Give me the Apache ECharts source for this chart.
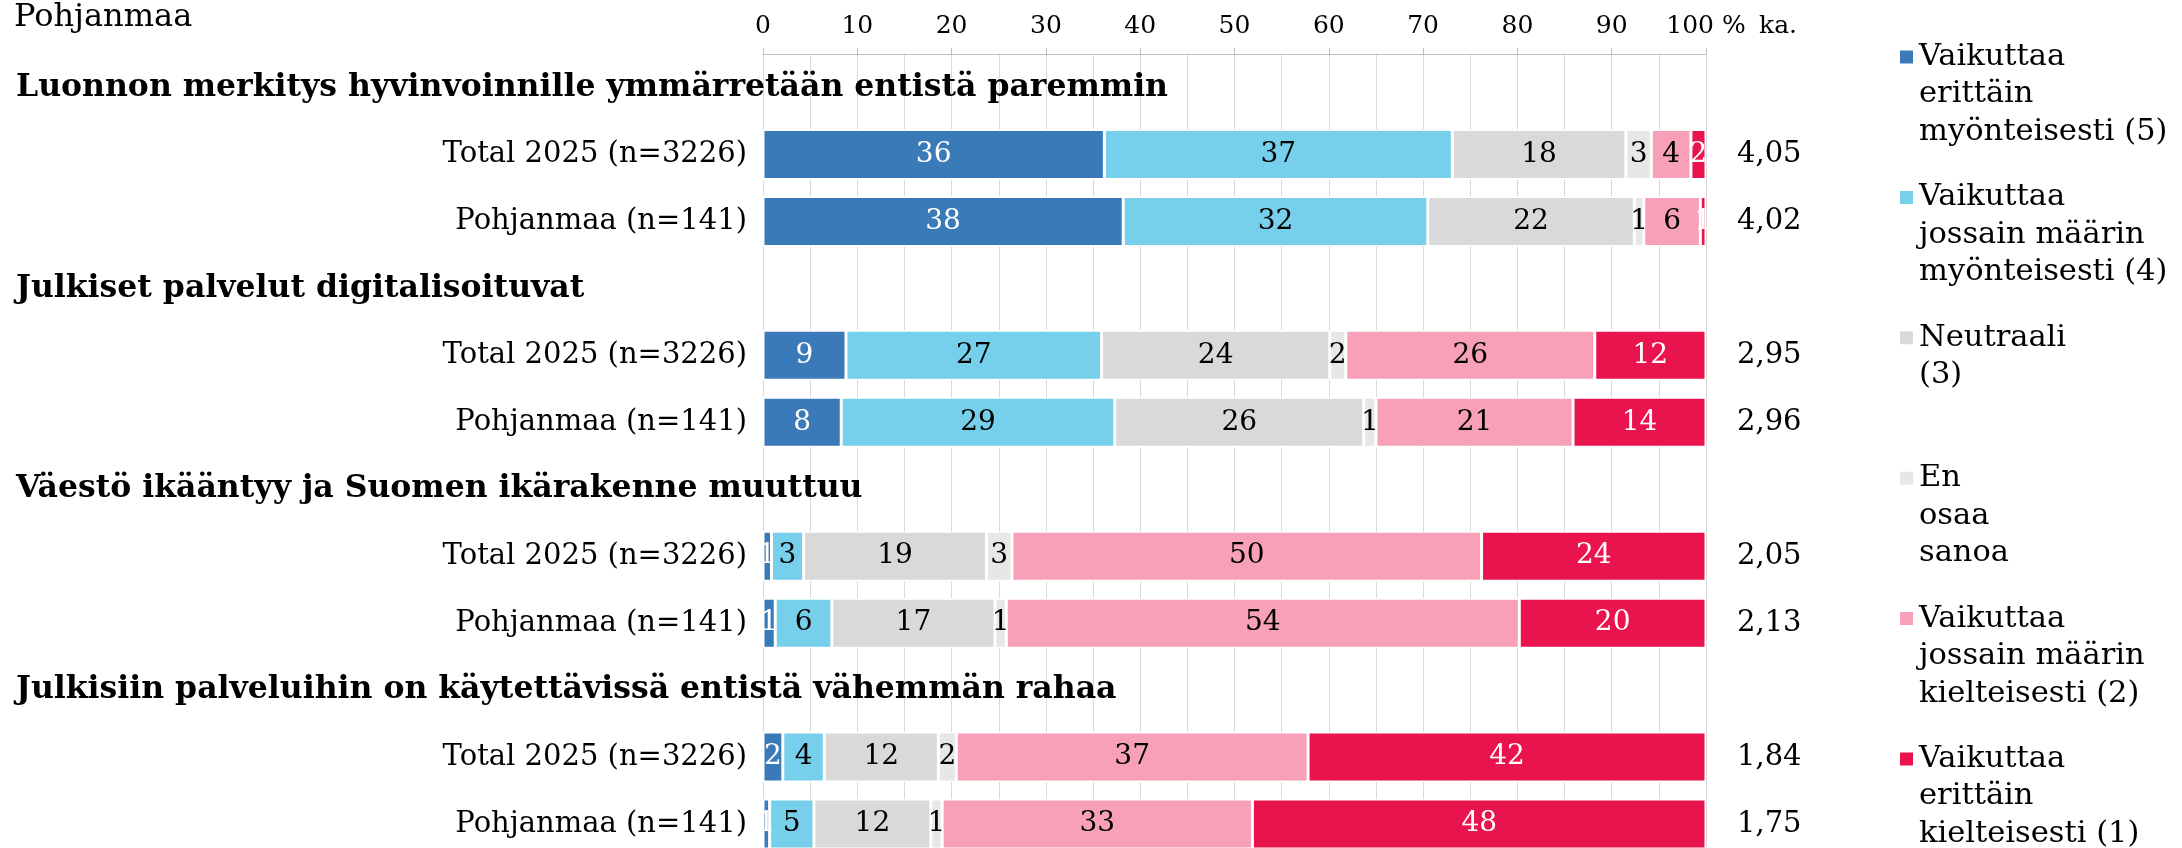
<!DOCTYPE html>
<html><head><meta charset="utf-8">
<script src="https://cdn.jsdelivr.net/npm/echarts@6/dist/echarts.min.js"></script>
<style>html,body{margin:0;padding:0;background:#fff}#c{width:2182px;height:848px}</style>
</head><body><div id="c"></div>
<script>
const pageTitle = 'Pohjanmaa';
const topics = [
  'Luonnon merkitys hyvinvoinnille ymmärretään entistä paremmin',
  'Julkiset palvelut digitalisoituvat',
  'Väestö ikääntyy ja Suomen ikärakenne muuttuu',
  'Julkisiin palveluihin on käytettävissä entistä vähemmän rahaa'
];
const groups = ['Total 2025 (n=3226)', 'Pohjanmaa (n=141)'];
const seriesNames = [
  'Vaikuttaa\nerittäin\nmyönteisesti (5)',
  'Vaikuttaa\njossain määrin\nmyönteisesti (4)',
  'Neutraali\n(3)',
  'En\nosaa\nsanoa',
  'Vaikuttaa\njossain määrin\nkielteisesti (2)',
  'Vaikuttaa\nerittäin\nkielteisesti (1)'
];
const colors = ['#3a7ab9', '#76cfeb', '#d9d9d9', '#e7e7e7', '#f7a0b7', '#e9134d'];
const labelColors = ['#ffffff', '#000000', '#000000', '#000000', '#000000', '#ffffff'];
// rows in order: topic1 Total, topic1 Pohjanmaa, topic2 Total, ...
const v5 = [36.2, 38.2, 8.8, 8.3, 0.9, 1.3, 2.1, 0.7];
const v4 = [36.9, 32.3, 27.1, 29.0, 3.4, 6.0, 4.4, 4.7];
const v3 = [18.4, 21.9, 24.2, 26.4, 19.4, 17.3, 12.1, 12.4];
const vEOS = [2.7, 1.0, 1.7, 1.3, 2.7, 1.2, 1.9, 1.2];
const v2 = [4.2, 6.0, 26.4, 20.9, 49.8, 54.4, 37.3, 32.9];
const v1 = [1.6, 0.6, 11.8, 14.1, 23.8, 19.8, 42.2, 48.1];
const means = ['4,05', '4,02', '2,95', '2,96', '2,05', '2,13', '1,84', '1,75'];
const maxTickSuffix = ' %';
const meanHeader = 'ka.';

const FONT = 'DejaVu Serif';
const seriesValues = [v5, v4, v3, vEOS, v2, v1];

// Build category rows
const cats = [], rowKind = [], rowText = [], rowIdx = [];
let k = 0;
topics.forEach((t, ti) => {
  cats.push('topic' + ti); rowKind.push('topic'); rowText.push(t); rowIdx.push(-1);
  groups.forEach((g, gi) => {
    cats.push('row' + ti + '_' + gi); rowKind.push('group'); rowText.push(g); rowIdx.push(k++);
  });
});

const series = seriesValues.map((vals, si) => ({
  name: seriesNames[si],
  type: 'bar',
  stack: 'all',
  barWidth: 50,
  itemStyle: { color: colors[si], borderColor: '#ffffff', borderWidth: 1.5 },
  label: {
    show: true, position: 'inside',
    fontFamily: FONT, fontSize: 28, color: labelColors[si],
    formatter: p => String(Math.round(p.value))
  },
  emphasis: { disabled: true },
  data: rowIdx.map(r => r < 0 ? '-' : vals[r])
}));

// Legends: one per item so the spacing matches; icon aligned with first text line
const legendPitch = 140.4, legendFirst = 57, lh = 37.5;
const legends = seriesNames.map((n, i) => {
  const lines = n.split('\n').length;
  const center = legendFirst + legendPitch * i;
  const half = (2 * lines - 1) * lh / 2;
  return {
    data: [n], orient: 'vertical', left: 1898, top: center - half, padding: 0,
    itemWidth: 15, itemHeight: 15, icon: 'rect', selectedMode: false,
    formatter: name => '\n'.repeat(lines - 1) + name,
    textStyle: { fontFamily: FONT, fontSize: 30.5, color: '#000', lineHeight: lh }
  };
});

const chart = echarts.init(document.getElementById('c'), null, { renderer: 'canvas' });
chart.setOption({
  animation: false,
  color: colors,
  title: { text: pageTitle, left: 14, top: 2, padding: 0,
    textStyle: { fontFamily: FONT, fontSize: 32, fontWeight: 'normal', color: '#000' } },
  legend: legends,
  grid: { left: 763, top: 54, width: 943, height: 803.5, outerBoundsMode: 'none', containLabel: false },
  xAxis: {
    type: 'value', position: 'top', min: 0, max: 100, interval: 10,
    axisLine: { show: true, lineStyle: { color: '#bfbfbf', width: 1 } },
    axisTick: { show: true, length: 6, lineStyle: { color: '#bfbfbf' } },
    axisLabel: { fontFamily: FONT, fontSize: 25, color: '#000', margin: 15,
      formatter: v => v === 100 ? v + maxTickSuffix : String(v) },
    splitLine: { show: true, lineStyle: { color: '#d9d9d9', width: 1 } },
    minorTick: { show: false, splitNumber: 2 },
    minorSplitLine: { show: true, lineStyle: { color: '#d9d9d9', width: 1 } },
    name: meanHeader, nameLocation: 'end', nameGap: 53,
    nameTextStyle: { fontFamily: FONT, fontSize: 25, color: '#000', verticalAlign: 'bottom', padding: [0, 0, 15, 0] }
  },
  yAxis: [{
    type: 'category', inverse: true, data: cats,
    axisLine: { show: false }, axisTick: { show: false }, splitLine: { show: false },
    axisLabel: {
      interval: 0, margin: 16, align: 'right',
      formatter: (v, i) => rowKind[i] === 'topic' ? '{t|' + rowText[i] + '}' : '{s|' + rowText[i] + '}',
      rich: {
        t: { fontFamily: FONT, fontSize: 31.5, fontWeight: 'bold', color: '#000', width: 731, align: 'left' },
        s: { fontFamily: FONT, fontSize: 29, color: '#000' }
      }
    }
  }, {
    type: 'category', inverse: true, data: cats, position: 'right',
    axisLine: { show: false }, axisTick: { show: false }, splitLine: { show: false },
    axisLabel: {
      interval: 0, margin: 31, align: 'left', fontFamily: FONT, fontSize: 29, color: '#000',
      formatter: (v, i) => rowKind[i] === 'topic' ? '' : means[rowIdx[i]]
    }
  }],
  series: series
});
</script></body></html>
